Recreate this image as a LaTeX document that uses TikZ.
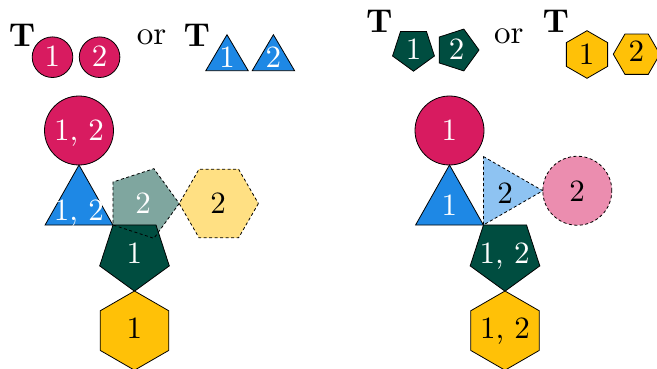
\documentclass[tikz,border=0pt]{standalone}
\usepackage{fontspec}
\definecolor{crim}{HTML}{D81B60}
\definecolor{azure}{HTML}{1E88E5}
\definecolor{amber}{HTML}{FFC107}
\definecolor{dkgreen}{HTML}{004D40}
\newcommand{\lbltext}[1]{\scalebox{3.1}{#1}}
\newcommand{\ttltext}[1]{\scalebox{3.3}{#1}}
\tikzset{
  shp/.style={draw=black, line width=0.8pt, line join=miter},
  ghost/.style={shp, dash pattern=on 3pt off 2.5pt, fill opacity=0.5},
  ghostline/.style={draw=black, line width=0.8pt, dash pattern=on 3pt off 2.5pt},
  lblw/.style={text=white, anchor=base, inner sep=0pt},
  lblk/.style={lblw, text=black},
  bigT/.style={anchor=base, inner sep=0pt, font=\bfseries},
  ortext/.style={anchor=base, inner sep=0pt},
}
\begin{document}
\begin{tikzpicture}[x=1pt,y=-1pt]
\useasboundingbox (0,0) rectangle (657,369);
\clip (0,0) rectangle (657,369);

% ---------- titles ----------
\node[bigT] (tA) at (22,46.5) {\ttltext{T}};
\draw[shp, fill=crim] (52.5,57.2) circle[radius=20.3pt];
\draw[shp, fill=crim] (99.6,57.2) circle[radius=20.3pt];
\node[lblw] (tA1) at (52.5,66.4) {\lbltext{1}};
\node[lblw] (tA2) at (99.6,66.4) {\lbltext{2}};
\node[ortext] (orA) at (151.5,44.2) {\ttltext{or}};
\node[bigT] (tB) at (196.7,46.5) {\ttltext{T}};
\draw[shp, fill=azure] (227,34.7) -- (248.2,70.7) -- (205.8,70.7) -- cycle;
\draw[shp, fill=azure] (273.4,34.7) -- (294.6,70.7) -- (252.2,70.7) -- cycle;
\node[lblw] (tB1) at (227,68) {\lbltext{1}};
\node[lblw] (tB2) at (273.4,68) {\lbltext{2}};

\node[bigT] (tC) at (379.3,32.5) {\ttltext{T}};
\draw[shp, fill=dkgreen, shift={(413.5,49.2)}] (90:22) -- (162:22) -- (234:22) -- (306:22) -- (18:22) -- cycle;
\draw[shp, fill=dkgreen, shift={(457,50)}] (0:22) -- (72:22) -- (144:22) -- (216:22) -- (288:22) -- cycle;
\node[lblw] (tC1) at (413.5,59.7) {\lbltext{1}};
\node[lblw] (tC2) at (456.7,59.7) {\lbltext{2}};
\node[ortext] (orB) at (508.8,44) {\ttltext{or}};
\node[bigT] (tD) at (555.9,32.5) {\ttltext{T}};
\draw[shp, fill=amber, shift={(587,54.5)}] (30:23.8) -- (90:23.8) -- (150:23.8) -- (210:23.8) -- (270:23.8) -- (330:23.8) -- cycle;
\draw[shp, fill=amber, shift={(636.6,54.2)}] (0:23.3) -- (60:23.3) -- (120:23.3) -- (180:23.3) -- (240:23.3) -- (300:23.3) -- cycle;
\node[lblk] (tD1) at (586.5,64.5) {\lbltext{1}};
\node[lblk] (tD2) at (636.3,62) {\lbltext{2}};

% ---------- left assembly ----------
\draw[shp, fill=crim] (79,130.5) circle[radius=34.5pt];
\node[lblw] (l1) at (79,140.7) {\lbltext{1, 2}};
\draw[shp, fill=azure] (79,165) -- (112.9,225) -- (45.1,225) -- cycle;
\node[lblw] (l2) at (78.8,220) {\lbltext{1, 2}};
\fill[dkgreen, fill opacity=0.5, shift={(142.6,203.5)}] (0:36.6) -- (72:36.6) -- (144:36.6) -- (216:36.6) -- (288:36.6) -- cycle;
\draw[shp, fill=dkgreen, shift={(134.5,254.6)}] (90:36.6) -- (162:36.6) -- (234:36.6) -- (306:36.6) -- (18:36.6) -- cycle;
\draw[ghostline, shift={(142.6,203.5)}] (0:36.6) -- (72:36.6) -- (144:36.6) -- (216:36.6) -- (288:36.6) -- cycle;
\node[lblw] (l3) at (143,213.7) {\lbltext{2}};
\node[lblw] (l4) at (134.3,263.4) {\lbltext{1}};
\draw[ghost, fill=amber, shift={(218.8,203.5)}] (0:39.6) -- (60:39.6) -- (120:39.6) -- (180:39.6) -- (240:39.6) -- (300:39.6) -- cycle;
\node[lblk] (l5) at (218,213.5) {\lbltext{2}};
\draw[shp, fill=amber, shift={(134.5,330.6)}] (30:39.6) -- (90:39.6) -- (150:39.6) -- (210:39.6) -- (270:39.6) -- (330:39.6) -- cycle;
\node[lblk] (l6) at (134.3,338.8) {\lbltext{1}};

% ---------- right assembly ----------
\draw[shp, fill=crim] (449.5,130.5) circle[radius=34.5pt];
\node[lblw] (r1) at (449.3,140.5) {\lbltext{1}};
\draw[shp, fill=azure] (449.5,165) -- (483.4,225) -- (415.6,225) -- cycle;
\node[lblw] (r2) at (449.3,215) {\lbltext{1}};
\draw[ghost, fill=azure] (483.4,156.5) -- (542.8,190.75) -- (483.4,225) -- cycle;
\node[lblk] (r3) at (505,203.7) {\lbltext{2}};
\draw[ghost, fill=crim] (577.3,190.75) circle[radius=34.5pt];
\node[lblk] (r4) at (577,201.5) {\lbltext{2}};
\draw[shp, fill=dkgreen, shift={(505,254.6)}] (90:36.6) -- (162:36.6) -- (234:36.6) -- (306:36.6) -- (18:36.6) -- cycle;
\node[lblw] (r5) at (504.7,263.5) {\lbltext{1, 2}};
\draw[shp, fill=amber, shift={(505,330.6)}] (30:39.6) -- (90:39.6) -- (150:39.6) -- (210:39.6) -- (270:39.6) -- (330:39.6) -- cycle;
\node[lblk] (r6) at (505,338.5) {\lbltext{1, 2}};
\end{tikzpicture}
\end{document}
